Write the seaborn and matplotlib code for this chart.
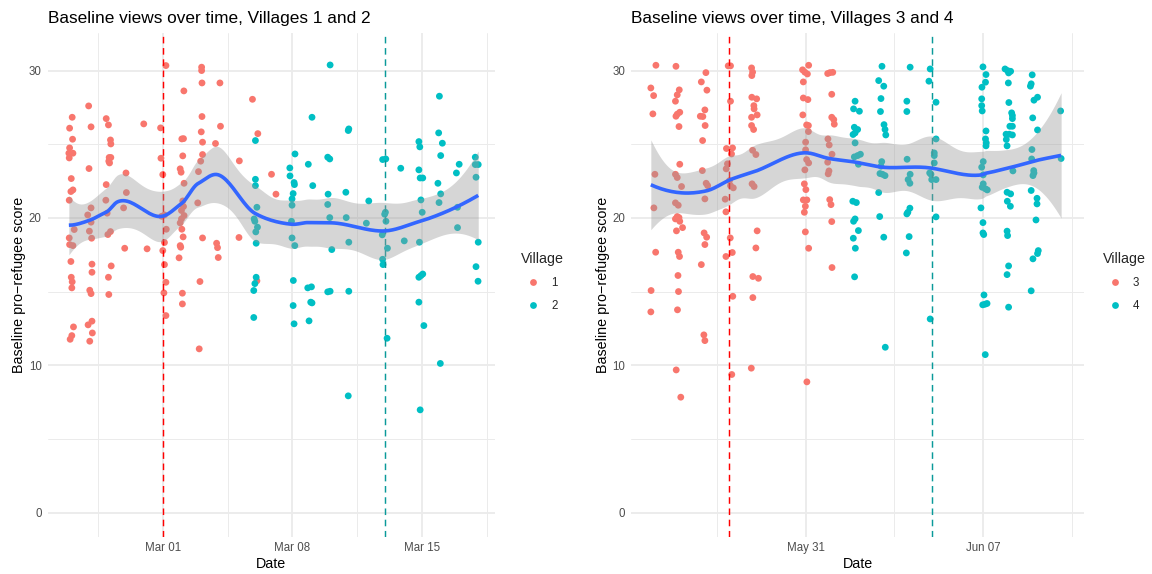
import numpy as np
import pandas as pd
import matplotlib
matplotlib.use("Agg")
import matplotlib.pyplot as plt
import matplotlib.dates as mdates
import seaborn as sns

# ---------------------------------------------------------------
# Data: survey date (days relative to a reference date) and score
# ---------------------------------------------------------------
base_left = pd.Timestamp("2016-03-01")
base_right = pd.Timestamp("2016-05-31")

v1_day = [
    -4.91, -5.05, -4.89, -5.05, -5.09, -4.87, -5.07, -4.96, -4.87, -4.98, -5.07,
    -4.80, -5.07, -5.05, -4.87, -4.98, -4.96, -4.91, -4.93, -4.84, -4.93, -5.02,
    -4.02, -3.89, -4.00, -3.89, -4.07, -3.89, -3.98, -3.86, -3.84, -3.84, -3.96,
    -3.89, -3.84, -4.05, -3.82, -3.96,
    -3.07, -2.95, -2.84, -2.82, -2.91, -2.82, -2.93, -2.89, -3.07, -3.09, -3.02,
    -2.84, -2.98, -2.80, -2.95, -2.93,
    -2.00, -1.98, -2.13, -2.07,
    -1.04, -0.86,
    0.16, -0.13, -0.11, -0.01, -0.07, 0.08, 0.18, 0.08, -0.01, 0.08, 0.16, 0.05, 0.16,
    1.13, 1.02, 1.11, 1.07, 0.93, 0.98, 1.14, 1.07, 1.11, 1.00, 1.14, 1.00, 0.93,
    1.02, 1.09, 0.93, 0.96, 0.87, 1.05, 1.05,
    2.09, 2.09, 2.11, 2.11, 2.07, 2.14, 2.14, 2.04, 1.92, 1.88, 2.14, 2.00, 1.96,
    3.08, 3.11, 2.84, 2.90, 2.95, 2.99,
    4.13, 4.11,
    4.84, 5.13, 5.08,
    5.87, 6.11,
]
v1_score = [
    26.83, 26.09, 25.34, 24.75, 24.39, 24.39, 24.07, 22.67, 21.90, 21.79, 21.20,
    19.21, 18.64, 18.19, 18.12, 17.04, 15.97, 15.66, 15.25, 12.60, 12.01, 11.76,
    27.60, 26.18, 23.35, 20.68, 20.20, 19.71, 19.10, 18.62, 16.86, 16.31, 15.09,
    14.86, 12.99, 12.74, 12.19, 11.63,
    26.74, 26.31, 25.29, 25.02, 24.10, 24.10, 23.85, 23.73, 22.26, 21.20, 20.32,
    19.07, 18.87, 16.74, 15.97, 14.80,
    23.05, 21.72, 20.68, 17.94,
    26.38, 17.90,
    30.34, 26.11, 24.05, 22.94, 20.11, 20.20, 19.23, 18.33, 17.78, 16.83, 15.63, 14.91, 13.37,
    28.62, 25.36, 25.38, 24.21, 23.33, 23.10, 22.35, 21.15, 20.77, 20.50, 20.16, 19.93,
    19.66, 19.23, 18.71, 18.12, 18.01, 17.29, 14.89, 14.16,
    30.23, 30.00, 29.16, 26.88, 25.84, 25.14, 24.30, 23.85, 23.14, 21.02, 18.64, 15.68, 11.11,
    29.16, 26.22, 25.05, 18.28, 17.98, 17.31,
    23.87, 18.67,
    28.05, 25.72, 15.73,
    22.96, 21.61,
]

v2_day = [
    5.00, 5.00, 5.00, 5.08, 4.93, 4.97, 5.11, 5.02, 5.04, 5.04, 4.97, 4.91, 4.91,
    7.14, 6.86, 6.87, 7.09, 7.11, 7.04, 6.98, 6.98, 6.95, 6.98, 7.13, 7.05, 7.04, 7.09,
    8.06, 7.86, 8.10, 7.83, 8.03, 7.99, 8.06, 7.90,
    9.04, 8.91, 9.02, 8.93, 8.91, 9.02, 9.13, 8.91, 9.04,
    10.05, 10.02, 9.89, 9.91, 10.05, 10.05, 10.02,
    11.13, 11.00,
    11.88, 12.05, 12.03, 11.99, 12.06, 11.86, 12.14, 11.88, 11.90, 12.12,
    12.86, 13.05,
    13.84, 13.89, 13.84, 13.91, 14.05, 13.95, 14.02, 13.87, 13.84, 13.95, 14.05,
    13.84, 14.11, 13.91,
    14.95, 14.91, 15.11, 15.02, 14.87, 15.02, 14.93, 15.00,
    16.02, 15.87, 15.93, 15.93,
    16.89, 16.89, 17.05, 16.93, 17.05, 16.93, 17.04,
]
v2_score = [
    25.25, 22.62, 22.19, 20.72, 19.93, 19.77, 19.37, 19.05, 18.28, 15.97, 15.54, 15.07, 13.24,
    24.34, 23.39, 22.85, 22.40, 22.26, 21.65, 21.29, 20.86, 19.77, 18.64, 18.12, 15.75, 14.05, 12.81,
    26.83, 23.64, 22.19, 15.25, 15.32, 14.28, 14.23, 13.01,
    30.38, 24.12, 24.00, 21.61, 20.91, 20.02, 17.85, 14.98, 15.02,
    26.04, 25.93, 21.74, 20.02, 18.35, 15.02, 7.92,
    21.15, 19.64,
    23.96, 24.00, 20.38, 20.25, 19.77, 18.85, 17.94, 17.19, 16.83, 11.83,
    23.37, 18.44,
    25.18, 24.82, 23.26, 22.71, 22.71, 21.22, 20.38, 18.35, 15.97, 16.08, 16.19,
    14.28, 12.69, 6.97,
    28.26, 25.77, 25.07, 24.23, 22.35, 21.63, 21.04, 10.12,
    23.64, 23.05, 20.72, 19.34,
    24.12, 23.62, 23.62, 22.76, 18.35, 16.69, 15.70,
]

v3_day = [
    -5.90, -6.10, -5.99, -6.02, -5.94, -5.98, -5.91, -6.09, -6.10,
    -5.11, -4.98, -5.06, -5.13, -4.96, -5.06, -5.11, -4.99, -4.96, -5.13, -5.06,
    -4.89, -5.13, -5.02, -5.06, -5.13, -4.99, -4.96, -5.09, -4.85, -5.02, -4.97,
    -5.03, -5.01, -5.05, -5.10, -4.92,
    -3.93, -4.11, -3.89, -3.97, -4.15, -4.05, -3.96, -4.06, -4.07, -3.92, -3.86,
    -3.97, -4.00, -3.90, -3.97, -4.11, -4.01, -3.97,
    -3.05, -2.96, -2.96, -3.12, -2.88, -2.92, -3.08, -3.13, -3.00, -2.96, -2.85,
    -3.17, -3.14, -2.97, -2.89, -3.14, -2.87, -2.91,
    -2.13, -2.09, -2.12, -2.12, -1.93, -2.04, -2.03, -2.13, -1.91, -2.13, -2.05,
    -2.09, -1.96, -2.11, -2.03, -1.91, -1.96, -2.08, -1.86, -2.08, -2.14,
    0.12, -0.12, -0.03, 0.07, -0.09, -0.09, 0.09, -0.11, 0.04, 0.11, 0.11, 0.00,
    0.00, 0.04, 0.12, -0.03, -0.05, 0.01, -0.09, 0.05, -0.01, -0.05, -0.01, 0.12, 0.05,
    0.87, 0.96, 1.07, 1.03, 1.03, 1.11, 1.13, 0.88, 0.93, 1.04, 0.87, 0.92, 0.89,
    0.95, 1.00, 1.03, 1.04,
]
v3_score = [
    30.36, 28.82, 28.30, 27.06, 22.96, 20.68, 17.67, 15.07, 13.62,
    30.29, 28.69, 28.35, 27.92, 27.17, 27.04, 26.90, 26.20, 23.64, 22.96, 22.74,
    22.13, 21.02, 20.86, 20.09, 19.93, 20.02, 19.77, 19.12, 19.34, 17.67, 17.38,
    16.09, 15.00, 13.76, 9.68, 7.83,
    29.86, 29.23, 28.67, 27.33, 26.90, 26.88, 26.27, 25.25, 23.21, 22.35, 22.19,
    21.29, 18.98, 18.69, 18.19, 16.83, 12.06, 11.67,
    30.32, 30.32, 27.92, 24.71, 24.75, 24.34, 23.67, 23.33, 22.53, 22.19, 22.04,
    21.27, 20.41, 18.64, 17.65, 17.38, 14.68, 9.37,
    30.18, 29.89, 29.66, 28.19, 28.08, 27.62, 27.40, 26.83, 26.99, 26.27, 26.00,
    24.59, 24.30, 22.31, 22.13, 19.12, 17.96, 16.02, 15.90, 14.59, 9.80,
    30.36, 30.05, 29.89, 29.77, 29.23, 28.14, 28.03, 26.99, 26.31, 26.27, 25.86, 25.14,
    24.62, 23.96, 23.73, 23.26, 22.31, 21.92, 21.22, 21.22, 20.79, 20.38, 19.05, 17.94, 8.87,
    29.80, 29.86, 29.88, 28.39, 26.83, 26.67, 26.36, 25.36, 24.95, 24.32, 23.78, 23.19, 22.99,
    21.24, 20.90, 19.75, 16.63,
]

v4_day = [
    1.95, 1.89, 2.12, 1.92, 2.05, 1.95, 1.87, 1.95, 1.92, 2.05, 2.16, 2.08, 1.86,
    2.00, 1.95, 1.89, 2.08, 1.88, 1.96, 1.93,
    3.01, 2.88, 3.08, 2.97, 2.95, 3.09, 3.13, 3.16, 3.00, 2.97, 2.93, 3.03, 3.13,
    2.88, 2.92, 3.08, 3.14,
    4.12, 3.99, 3.99, 4.00, 4.12, 4.04, 4.11, 4.11, 3.99, 4.03, 4.08, 3.97,
    4.91, 4.86, 5.14, 5.14, 5.07, 5.07, 5.07, 4.89, 4.94, 5.14, 4.97, 5.14, 4.91,
    6.99, 7.11, 7.09, 6.95, 6.94, 6.94, 6.96, 7.11, 7.09, 7.12, 7.11, 7.00, 6.94,
    7.00, 7.00, 6.96, 7.09, 7.16, 6.91, 6.99, 6.99, 7.02, 7.03, 6.98, 7.07, 7.15, 7.08,
    7.86, 7.96, 8.08, 8.00, 7.99, 8.01, 8.12, 8.15, 8.15, 8.05, 8.15, 7.90, 8.03,
    8.15, 7.91, 7.94, 8.17, 7.94, 8.08, 7.95, 8.07, 7.94, 7.96, 8.00, 7.94, 8.00,
    8.93, 8.89, 8.86, 9.00, 9.14, 8.95, 9.14, 8.92, 8.91, 8.99, 9.00, 8.96, 8.89,
    9.12, 9.12, 9.08, 9.17, 9.14, 8.96, 8.89,
    10.05, 10.07,
]
v4_score = [
    27.92, 27.40, 27.24, 26.15, 26.00, 25.77, 25.66, 25.09, 24.14, 24.23, 24.32, 23.64, 21.13,
    21.04, 19.93, 19.77, 19.14, 18.62, 17.94, 16.00,
    30.29, 29.32, 28.94, 28.10, 27.22, 26.33, 26.00, 25.63, 23.82, 23.51, 23.01, 22.96, 22.87,
    21.72, 20.09, 18.69, 11.22,
    30.23, 27.92, 27.22, 23.98, 22.96, 22.60, 22.35, 20.66, 20.27, 20.38, 18.73, 17.62,
    30.11, 29.28, 27.85, 25.36, 24.41, 24.23, 23.73, 23.05, 22.96, 22.60, 22.60, 20.07, 13.14,
    30.25, 29.73, 29.21, 28.87, 28.08, 27.62, 27.26, 25.90, 25.36, 25.09, 24.89, 23.82, 23.44,
    22.92, 22.31, 22.08, 21.97, 21.90, 20.68, 19.68, 18.98, 18.87, 14.77, 14.10, 14.14, 14.19, 10.72,
    30.11, 30.00, 29.95, 29.84, 29.16, 27.83, 27.13, 26.95, 26.74, 26.22, 26.22, 25.68, 25.68,
    25.63, 25.32, 24.89, 23.19, 21.74, 21.63, 21.13, 20.79, 19.10, 18.80, 16.74, 16.15, 13.94,
    29.71, 29.10, 28.94, 27.99, 28.19, 26.79, 25.97, 24.64, 24.00, 23.21, 23.05, 22.87, 21.86,
    21.33, 20.95, 19.86, 17.78, 17.58, 17.22, 15.05,
    27.26, 24.03,
]

# intervention dates (dashed reference lines), days from reference date
left_vlines = [(0, "#FF0000"), (12, "#0A9A9A")]
right_vlines = [(-3, "#FF0000"), (5, "#0A9A9A")]

palette_left = {"1": "#F8766D", "2": "#00BFC4"}
palette_right = {"3": "#F8766D", "4": "#00BFC4"}

SPAN = 0.35


def make_frame(base, days_a, score_a, lab_a, days_b, score_b, lab_b):
    days = np.concatenate([days_a, days_b])
    frame = pd.DataFrame({
        "days": days,
        "Date": base + pd.to_timedelta(days, unit="D"),
        "Score": np.concatenate([score_a, score_b]),
        "Village": [lab_a] * len(days_a) + [lab_b] * len(days_b),
    })
    return frame


def loess_fit(x, y, grid, span, cell=0.2):
    """Local quadratic regression (tricube weights), evaluated on a kd-tree of
    vertices and blended with cubic Hermite interpolation; returns fit and SE."""
    x = np.asarray(x, float)
    y = np.asarray(y, float)
    n = len(x)
    q = max(int(np.floor(n * span)), 3)

    def local_rows(x0):
        d = np.abs(x - x0)
        h = np.sort(d)[q - 1]
        w = np.clip(1 - (d / h) ** 3, 0, None) ** 3
        X = np.column_stack([np.ones(n), x - x0, (x - x0) ** 2])
        XtW = X.T * w
        sol = np.linalg.solve(XtW @ X, XtW)
        return sol[0], sol[1]

    # kd-tree vertices
    fc = int(np.floor(n * span * cell))
    verts = {x.min(), x.max()}

    def split(lo, hi):
        pts = np.sort(x[(x >= lo) & (x <= hi)])
        if len(pts) <= fc:
            return
        m = len(pts) // 2
        v = 0.5 * (pts[m - 1] + pts[m])
        if v <= lo or v >= hi:
            return
        verts.add(v)
        split(lo, v)
        split(v, hi)

    split(x.min(), x.max())
    vx = np.array(sorted(verts))
    V0 = np.zeros((len(vx), n))
    V1 = np.zeros((len(vx), n))
    for i, v in enumerate(vx):
        V0[i], V1[i] = local_rows(v)

    def interp_rows(points):
        rows = np.zeros((len(points), n))
        for k, p in enumerate(points):
            j = np.clip(np.searchsorted(vx, p) - 1, 0, len(vx) - 2)
            a, b = vx[j], vx[j + 1]
            hh = b - a
            t = (p - a) / hh
            h00 = 2 * t ** 3 - 3 * t ** 2 + 1
            h10 = t ** 3 - 2 * t ** 2 + t
            h01 = -2 * t ** 3 + 3 * t ** 2
            h11 = t ** 3 - t ** 2
            rows[k] = (h00 * V0[j] + h10 * hh * V1[j]
                       + h01 * V0[j + 1] + h11 * hh * V1[j + 1])
        return rows

    L_data = interp_rows(x)
    resid = y - L_data @ y
    M = np.eye(n) - L_data
    delta1 = np.trace(M.T @ M)
    sigma = np.sqrt(np.sum(resid ** 2) / delta1)
    L_grid = interp_rows(grid)
    fit = L_grid @ y
    se = sigma * np.sqrt(np.sum(L_grid ** 2, axis=1))
    return fit, se


df_left = make_frame(base_left, v1_day, v1_score, "1", v2_day, v2_score, "2")
df_right = make_frame(base_right, v3_day, v3_score, "3", v4_day, v4_score, "4")

# ---------------------------------------------------------------
# Figure
# ---------------------------------------------------------------
sns.set_theme(style="white")
plt.rcParams["font.family"] = ["Liberation Sans", "DejaVu Sans"]

W, H = 1152, 574
fig = plt.figure(figsize=(W / 100, H / 100), dpi=100)


def px_axes(x0, x1, y0, y1):
    return fig.add_axes([x0 / W, 1 - y1 / H, (x1 - x0) / W, (y1 - y0) / H])


panels = [
    dict(ax=px_axes(47.6, 494.5, 33, 537), df=df_left, base=base_left,
         pal=palette_left, xlim=(-6.24, 17.93), majors=[0, 7, 14],
         minors=[-3.5, 3.5, 10.5, 17.5], vlines=left_vlines,
         title="Baseline views over time, Villages 1 and 2", legend_x=521),
    dict(ax=px_axes(631.3, 1083.7, 33, 537), df=df_right, base=base_right,
         pal=palette_right, xlim=(-6.87, 10.96), majors=[0, 7],
         minors=[-3.5, 3.5, 10.5], vlines=right_vlines,
         title="Baseline views over time, Villages 3 and 4", legend_x=1103),
]

for p in panels:
    ax = p["ax"]
    df = p["df"]
    base_num = mdates.date2num(p["base"])

    # grid
    for yv in [0, 10, 20, 30]:
        ax.axhline(yv, color="#EBEBEB", lw=1.35, zorder=0)
    for yv in [5, 15, 25]:
        ax.axhline(yv, color="#EBEBEB", lw=0.7, zorder=0)
    for xv in p["majors"]:
        ax.axvline(base_num + xv, color="#EBEBEB", lw=1.35, zorder=0)
    for xv in p["minors"]:
        ax.axvline(base_num + xv, color="#EBEBEB", lw=0.7, zorder=0)

    # points
    sns.scatterplot(data=df, x="Date", y="Score", hue="Village", palette=p["pal"],
                    s=24, linewidth=0, alpha=1, ax=ax, zorder=2)

    # dashed reference lines
    for xv, col in p["vlines"]:
        ax.axvline(base_num + xv, color=col, lw=1.05, ls=(0, (4.5, 3.2)), zorder=3)

    # loess smooth with 95% band
    grid = np.linspace(df["days"].min(), df["days"].max(), 240)
    fit, se = loess_fit(df["days"].values, df["Score"].values, grid, SPAN)
    tcrit = 1.97
    ax.fill_between(base_num + grid, fit - tcrit * se, fit + tcrit * se,
                    color="#999999", alpha=0.4, lw=0, zorder=4)
    ax.plot(base_num + grid, fit, color="#3366FF", lw=2.6, zorder=5,
            solid_capstyle="butt")

    ax.set_xlim(base_num + p["xlim"][0], base_num + p["xlim"][1])
    ax.set_ylim(-1.66, 32.55)
    ax.set_xticks([base_num + v for v in p["majors"]])
    ax.xaxis.set_major_formatter(mdates.DateFormatter("%b %d"))
    ax.set_yticks([0, 10, 20, 30])
    ax.tick_params(axis="both", length=0, labelsize=8.3, labelcolor="#4D4D4D")
    ax.tick_params(axis="y", pad=4.2)
    ax.tick_params(axis="x", pad=3.6)
    for s in ax.spines.values():
        s.set_visible(False)
    ax.set_facecolor("white")
    ax.set_xlabel("Date", fontsize=10.3, color="black", labelpad=2.5)
    ax.set_ylabel("Baseline pro\u2212refugee score", fontsize=10.3, color="black",
                  labelpad=2)
    ax.set_title(p["title"], fontsize=12.4, loc="left", color="black", pad=7)

    sns.move_legend(ax, "upper left",
                    bbox_to_anchor=(p["legend_x"] / W, 1 - 252 / H),
                    bbox_transform=fig.transFigure, frameon=False,
                    title="Village", fontsize=8.3, title_fontsize=10.3,
                    labelspacing=0.95, handletextpad=0.6, borderpad=0,
                    borderaxespad=0, markerscale=1.0)
    leg = ax.get_legend()
    leg._legend_box.align = "left"

fig.savefig("out.png", dpi=100, facecolor="white")
